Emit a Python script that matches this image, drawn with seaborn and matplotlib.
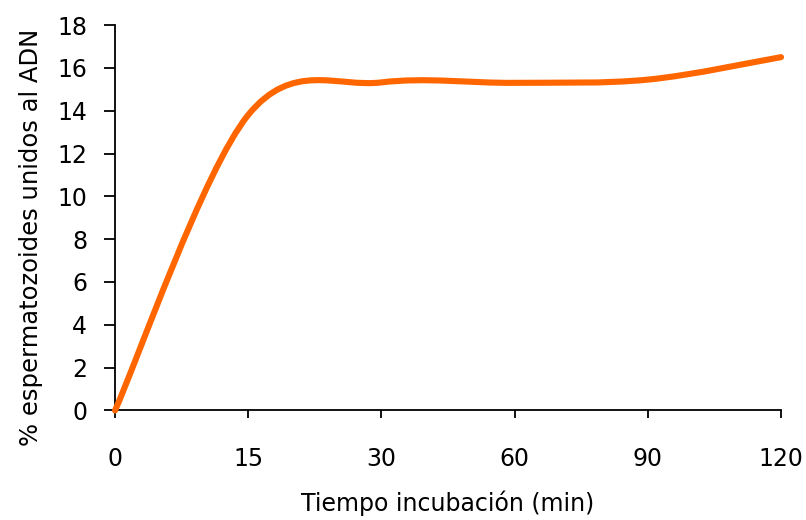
import numpy as np
import matplotlib
matplotlib.use('Agg')
import matplotlib.pyplot as plt
from matplotlib.path import Path
from matplotlib.patches import PathPatch
import seaborn as sns

# Datos
tiempo_labels = ['0', '15', '30', '60', '90', '120']
porcentaje = [0.0, 13.8, 15.32, 15.3, 15.45, 16.5]
y_ticks = [0, 2, 4, 6, 8, 10, 12, 14, 16, 18]

COLOR_LINEA = '#FF6600'

sns.set_style('ticks')
plt.rcParams['font.family'] = ['DejaVu Sans']


def curva_suavizada(x, y):
    """Path Bezier tipo 'linea suavizada' de Excel (Catmull-Rom)."""
    pts = np.column_stack([x, y]).astype(float)
    ext = np.vstack([pts[0], pts, pts[-1]])
    verts = [pts[0]]
    codes = [Path.MOVETO]
    for i in range(len(pts) - 1):
        p0, p1, p2, p3 = ext[i], ext[i + 1], ext[i + 2], ext[i + 3]
        c1 = p1 + (p2 - p0) / 6
        c2 = p2 - (p3 - p1) / 6
        verts += [c1, c2, p2]
        codes += [Path.CURVE4] * 3
    return Path(verts, codes)


fig = plt.figure(figsize=(8.06, 5.2), dpi=100)
ax = fig.add_axes([0.1427, 0.2106, 0.8263, 0.7413])

x_pos = np.arange(len(tiempo_labels))
ax.set_xlim(0, len(tiempo_labels) - 1)
ax.set_ylim(0, 18)

path = curva_suavizada(x_pos, porcentaje)
ax.add_patch(PathPatch(path, facecolor='none', edgecolor=COLOR_LINEA,
                       linewidth=4.4, capstyle='round', joinstyle='round',
                       clip_on=False, zorder=5))

ax.set_xticks(x_pos)
ax.set_xticklabels(tiempo_labels)
ax.set_yticks(y_ticks)

ax.tick_params(axis='x', direction='out', length=6, width=1.3, pad=20,
               labelsize=17, colors='black')
ax.tick_params(axis='y', direction='out', length=8, width=1.3, pad=12,
               labelsize=17, colors='black')

ax.set_xlabel('Tiempo incubación (min)', fontsize=17, labelpad=14, color='black')
ax.set_ylabel('% espermatozoides unidos al ADN', fontsize=17.5, labelpad=10, color='black')
ax.yaxis.label.set_y(0.45)

sns.despine(ax=ax)
for s in ['left', 'bottom']:
    ax.spines[s].set_linewidth(1.3)
    ax.spines[s].set_color('black')

fig.savefig('out.png', dpi=100)
